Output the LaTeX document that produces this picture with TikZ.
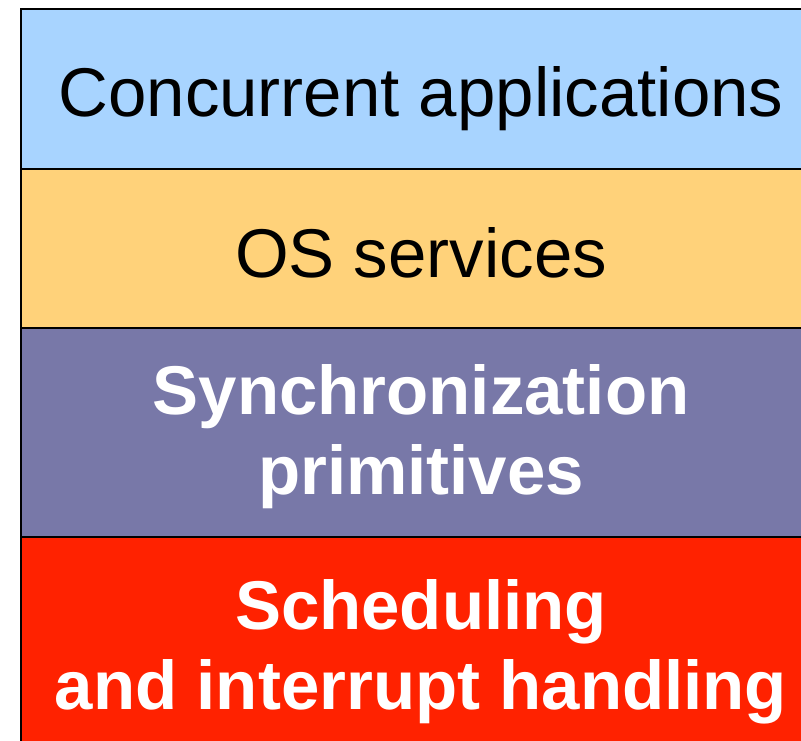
\documentclass[tikz,border=0pt]{standalone}
\usepackage{fontspec}
\setmainfont{Liberation Sans}
\definecolor{appblue}{RGB}{168,212,255}
\definecolor{osorange}{RGB}{255,210,122}
\definecolor{syncpurple}{RGB}{120,120,168}
\definecolor{schedred}{RGB}{255,34,0}
\begin{document}
\begin{tikzpicture}[x=1pt,y=-1pt,
  layerbox/.style={draw=black, line width=2pt, anchor=north west, inner sep=0pt, outer sep=0pt, minimum width=801pt},
  lbl/.style={font=\fontsize{69}{80}\selectfont, align=center, anchor=base, inner sep=0pt},
  lblw/.style={lbl, font=\fontsize{69}{80}\selectfont\bfseries, text=white}]
\useasboundingbox (0,0) rectangle (801,740);
\begin{scope}
\clip (0,0) rectangle (801,740);
\node[layerbox, fill=appblue, minimum height=160pt] (apps) at (21,9) {};
\node[layerbox, fill=osorange, minimum height=159pt] (os) at (21,169) {};
\node[layerbox, fill=syncpurple, minimum height=209pt] (sync) at (21,328) {};
\node[layerbox, fill=schedred, minimum height=263pt] (sched) at (21,537) {};
\end{scope}
\node[lbl] (tapps) at (421,116) {Concurrent applications};
\node[lbl] (tos) at (421,277) {OS services};
\node[lblw] (tsync) at (421,494) {Synchronization\\primitives};
\node[lblw] (tsched) at (421,709) {Scheduling\\and interrupt handling};
\end{tikzpicture}
\end{document}
